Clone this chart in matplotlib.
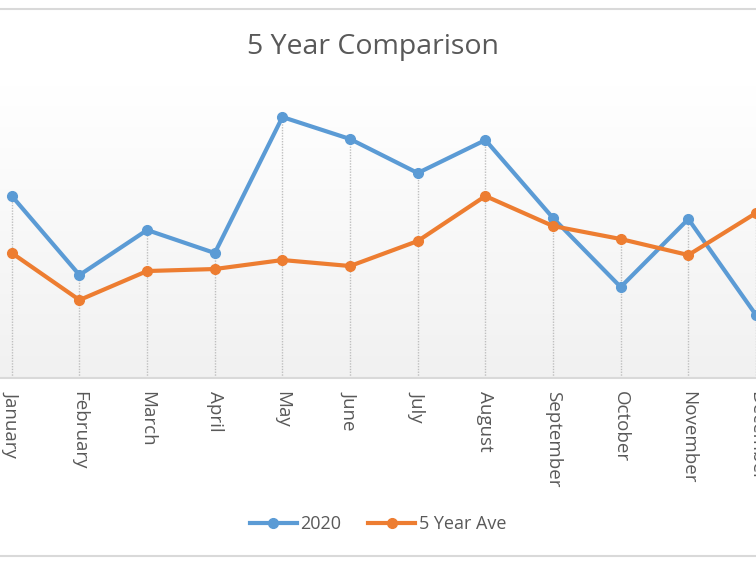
import matplotlib
matplotlib.use("Agg")
import matplotlib.pyplot as plt
import numpy as np
from matplotlib.lines import Line2D

months = ["January", "February", "March", "April", "May", "June", "July",
          "August", "September", "October", "November", "December"]
y2020 = [18.2, 10.3, 14.8, 12.5, 26.1, 23.9, 20.5, 23.8, 16.0, 9.1, 15.9, 6.3]
y5ave = [12.5, 7.8, 10.7, 10.9, 11.8, 11.2, 13.7, 18.2, 15.2, 13.9, 12.3, 16.5]

blue = "#5B9BD5"
orange = "#ED7D31"
txt = "#595959"

plt.rcParams['font.family'] = ['Open Sans', 'DejaVu Sans']

fig = plt.figure(figsize=(7.56, 5.67), dpi=100)
ax = fig.add_axes([0, 0.3333, 1, 0.5167])

x = np.arange(len(months))

# gradient background
grad = np.linspace(1.0, 0.945, 256).reshape(-1, 1)
ax.imshow(np.dstack([grad, grad, grad]), extent=[-1, 12, 0, 29.3],
          aspect='auto', origin='upper', zorder=0)

# drop lines
top = np.maximum(y2020, y5ave)
ax.vlines(x, 0, top, colors="#bfbfbf", linestyles=(0, (1, 1)), linewidth=1, zorder=1)

ax.plot(x, y2020, color=blue, lw=3, marker='o', ms=7, label="2020", zorder=3)
ax.plot(x, y5ave, color=orange, lw=3, marker='o', ms=7, label="5 Year Ave", zorder=3)

ax.set_xlim(-12/68.6, (756-12)/68.6)
ax.set_ylim(0, 29.3)

for s in ["top", "left", "right"]:
    ax.spines[s].set_visible(False)
ax.spines["bottom"].set_color("#d9d9d9")
ax.spines["bottom"].set_linewidth(1.5)
ax.set_yticks([])
ax.set_xticks(x)
ax.set_xticklabels(months, rotation=270, fontsize=13.5, color=txt, va='top', ha='center')
ax.tick_params(axis='x', length=0, pad=9)

fig.text(0.494, 0.917, "5 Year Comparison", ha='center', va='center', fontsize=20.5, color=txt)

fig.legend(loc='center', bbox_to_anchor=(0.5, 0.075), ncol=2, frameon=False,
           fontsize=13, labelcolor=txt, handlelength=2.6, handletextpad=0.2,
           columnspacing=1.5)

# chart border lines
fig.add_artist(Line2D([0, 1], [1-9/567, 1-9/567], color="#d9d9d9", lw=1.5))
fig.add_artist(Line2D([0, 1], [1-556/567, 1-556/567], color="#d9d9d9", lw=1.5))

fig.savefig("out.png", dpi=100)
